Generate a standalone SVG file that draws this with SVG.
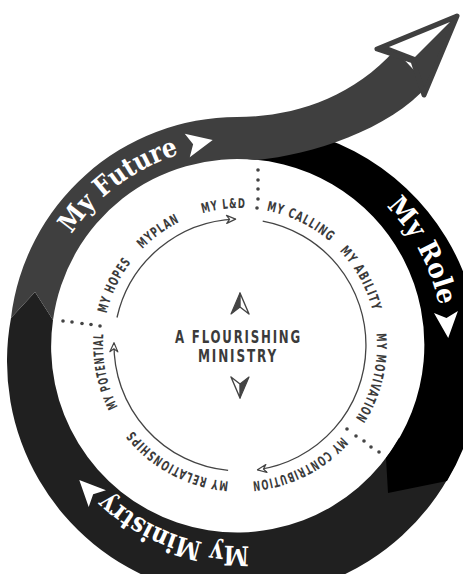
<svg xmlns="http://www.w3.org/2000/svg" width="463" height="574" viewBox="0 0 463 574">
<style>
.lbl{font-family:"DejaVu Sans Condensed","DejaVu Sans",sans-serif;font-weight:bold;font-size:13.5px;fill:#3b3b3b;letter-spacing:1.5px}
.band{font-family:"DejaVu Serif","Liberation Serif",serif;font-weight:bold;font-size:27px;fill:#fff}
.ctr{font-family:"DejaVu Sans Condensed","DejaVu Sans",sans-serif;font-weight:bold;font-size:18px;fill:#3b3b3b;letter-spacing:2.5px}
.arc{fill:none;stroke:#444;stroke-width:1.3}
.dot{fill:#444}
.wa{fill:#fff}
</style>
<defs>
<path id="pIn" d="M377,345 A137,137 0 1 1 103,345 A137,137 0 1 1 377,345 A137,137 0 1 1 103,345 A137,137 0 1 1 377,345"/>
<path id="pF" d="M436,345 A199,199 0 1 1 38,345 A199,199 0 1 1 436,345"/>
<path id="pR" d="M443,346 A200,200 0 1 1 43,346 A200,200 0 1 1 443,346"/>
<marker id="ah" markerWidth="12" markerHeight="10" viewBox="-11 -5 12 10" refX="0" refY="0" orient="auto" markerUnits="userSpaceOnUse">
<path d="M0,0 L-9,-4 L-6,0 L-9,4 Z" fill="#fff" stroke="#444" stroke-width="1.2" stroke-linejoin="round"/>
</marker>
<path id="wa" d="M14,0 L-12,-12 L-6,0 L-12,12 Z"/>
</defs>
<rect width="463" height="574" fill="#fff"/>

<g id="ministry">
<path d="M35,292 L53,320 A186,186 0 0 0 399,438 L453,469 A236,236 0 0 1 11,318 Z" fill="#202020"/>
<text class="band"><textPath href="#pR" startOffset="307.9" textLength="155" lengthAdjust="spacingAndGlyphs">My Ministry</textPath></text>
<use href="#wa" class="wa" transform="translate(89,490) rotate(226)"/>
</g>

<g id="role">
<path d="M231.5,159 L231,124.4 A236,236 0 0 1 447,481 L388,493 L386,458 A186,186 0 0 0 231.5,159 Z" fill="#000"/>
<text class="band"><textPath href="#pR" startOffset="1101.7" textLength="114" lengthAdjust="spacingAndGlyphs">My Role</textPath></text>
<use href="#wa" class="wa" transform="translate(447,324) rotate(85)"/>
</g>

<g id="future">
<path d="M11,318 A228,228 0 0 1 237,117 C290,117 350,100 395,50 L428,85 C390,130 310,155 257,160 A186,186 0 0 0 53,320 L35,292 Z" fill="#3f3f3f"/>
<path d="M457,16 L377,49 L413,61 L424,95 Z" fill="#3f3f3f" stroke="#3f3f3f" stroke-width="5" stroke-linejoin="round"/>
<path d="M389,47 L450,22 L415,57 Z" fill="#fff"/>
<text class="band"><textPath href="#pF" startOffset="742.6" textLength="136" lengthAdjust="spacingAndGlyphs">My Future</textPath></text>
<use href="#wa" class="wa" transform="translate(199,143) rotate(-12)"/>
</g>

<g id="connectors">
<path class="arc" d="M117,317.5 A126,126 0 0 1 235.6,219.1" marker-end="url(#ah)"/>
<path class="arc" d="M262.7,221.1 A126,126 0 0 1 257.5,469.8" marker-end="url(#ah)"/>
<path class="arc" d="M228.1,470.4 A126,126 0 0 1 114,342.8" marker-end="url(#ah)"/>
</g>

<g id="dots-top"><circle class="dot" cx="258" cy="170" r="1.8"/><circle class="dot" cx="258" cy="180" r="1.8"/><circle class="dot" cx="258" cy="189" r="1.8"/><circle class="dot" cx="258" cy="199" r="1.8"/><circle class="dot" cx="257" cy="208" r="1.8"/></g>
<g id="dots-right"><circle class="dot" cx="347" cy="429" r="1.8"/><circle class="dot" cx="356" cy="436" r="1.8"/><circle class="dot" cx="364" cy="441" r="1.8"/><circle class="dot" cx="371" cy="447" r="1.8"/><circle class="dot" cx="379" cy="452" r="1.8"/></g>
<g id="dots-left"><circle class="dot" cx="63" cy="321" r="1.8"/><circle class="dot" cx="72" cy="322" r="1.8"/><circle class="dot" cx="82" cy="323.5" r="1.8"/><circle class="dot" cx="91" cy="324.5" r="1.8"/><circle class="dot" cx="100" cy="326" r="1.8"/></g>

<g id="lbl-ld"><text class="lbl"><textPath href="#pIn" startOffset="607.3" textLength="44" lengthAdjust="spacingAndGlyphs">MY L&amp;D</textPath></text></g>
<g id="lbl-calling"><text class="lbl"><textPath href="#pIn" startOffset="671.9" textLength="72" lengthAdjust="spacingAndGlyphs">MY CALLING</textPath></text></g>
<g id="lbl-ability"><text class="lbl"><textPath href="#pIn" startOffset="756.5" textLength="70" lengthAdjust="spacingAndGlyphs">MY ABILITY</textPath></text></g>
<g id="lbl-motivation"><text class="lbl"><textPath href="#pIn" startOffset="849" textLength="90" lengthAdjust="spacingAndGlyphs">MY MOTIVATION</textPath></text></g>
<g id="lbl-contribution"><text class="lbl"><textPath href="#pIn" startOffset="100.4" textLength="103" lengthAdjust="spacingAndGlyphs">MY CONTRIBUTION</textPath></text></g>
<g id="lbl-relationships"><text class="lbl"><textPath href="#pIn" startOffset="226.7" textLength="112" lengthAdjust="spacingAndGlyphs">MY RELATIONSHIPS</textPath></text></g>
<g id="lbl-potential"><text class="lbl"><textPath href="#pIn" startOffset="365.8" textLength="76" lengthAdjust="spacingAndGlyphs">MY POTENTIAL</textPath></text></g>
<g id="lbl-hopes"><text class="lbl"><textPath href="#pIn" startOffset="462" textLength="58" lengthAdjust="spacingAndGlyphs">MY HOPES</textPath></text></g>
<g id="lbl-plan"><text class="lbl"><textPath href="#pIn" startOffset="536.5" textLength="47" lengthAdjust="spacingAndGlyphs">MYPLAN</textPath></text></g>

<g id="center">
<g id="compass-up">
<path d="M240,293 L231,314 L240,307 Z" fill="#444" stroke="#444" stroke-width="1.2" stroke-linejoin="round"/>
<path d="M240,293 L249,314 L240,307 Z" fill="#fff" stroke="#444" stroke-width="1.4" stroke-linejoin="round"/>
</g>
<g id="compass-down" transform="rotate(180,240,345.5)">
<path d="M240,293 L231,314 L240,307 Z" fill="#444" stroke="#444" stroke-width="1.2" stroke-linejoin="round"/>
<path d="M240,293 L249,314 L240,307 Z" fill="#fff" stroke="#444" stroke-width="1.4" stroke-linejoin="round"/>
</g>
<text class="ctr" x="175" y="343" textLength="127" lengthAdjust="spacingAndGlyphs">A FLOURISHING</text>
<text class="ctr" x="198" y="362" textLength="80" lengthAdjust="spacingAndGlyphs">MINISTRY</text>
</g>
</svg>
